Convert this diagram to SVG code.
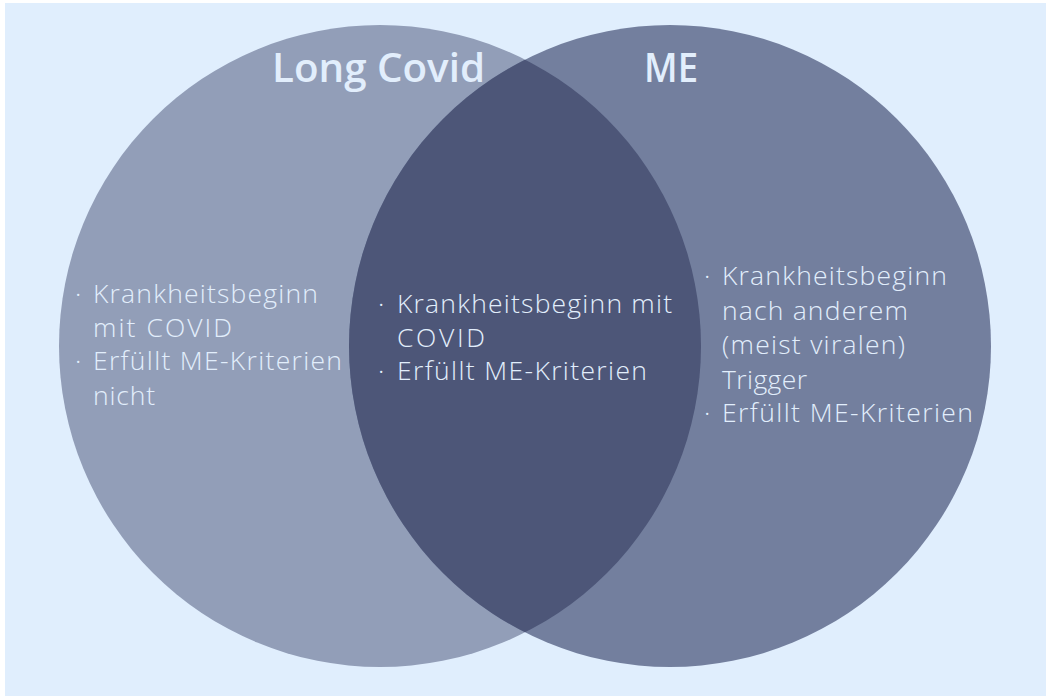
<svg xmlns="http://www.w3.org/2000/svg" width="1046" height="696" viewBox="0 0 1046 696">
<style>
.t{font-family:"Open Sans","Liberation Sans",sans-serif;font-weight:600;font-size:39px;fill:#e2eefc}
.b{font-family:"Open Sans","Liberation Sans",sans-serif;font-weight:300;font-size:26.5px;fill:#e2eefc}
</style>
<rect x="0" y="0" width="1046" height="696" fill="#ffffff"/>
<rect x="5" y="3" width="1041" height="693" fill="#e0eefd"/>
<defs>
<clipPath id="cl"><circle cx="380" cy="346" r="321"/></clipPath>
</defs>
<g id="longcovid">
<circle cx="380" cy="346" r="321" fill="#929eb8"/>
</g>
<g id="me">
<circle cx="670" cy="346" r="321" fill="#737f9e"/>
</g>
<g id="overlap">
<circle cx="670" cy="346" r="321" fill="#4d5678" clip-path="url(#cl)"/>
</g>
<g id="labels">
<text class="t" x="272" y="82" textLength="213" lengthAdjust="spacingAndGlyphs">Long Covid</text>
<text class="t" x="644" y="82" textLength="54" lengthAdjust="spacingAndGlyphs">ME</text>
</g>
<g id="left-text" class="b">
<text x="75" y="303">·</text><text x="93" y="303" textLength="225">Krankheitsbeginn</text>
<text x="93" y="337" textLength="139">mit COVID</text>
<text x="75" y="370">·</text><text x="93" y="370" textLength="249">Erfüllt ME-Kriterien</text>
<text x="93" y="405" textLength="62">nicht</text>
</g>
<g id="middle-text" class="b">
<text x="378" y="313">·</text><text x="397" y="313" textLength="275">Krankheitsbeginn mit</text>
<text x="397" y="347" textLength="88">COVID</text>
<text x="378" y="380">·</text><text x="397" y="380" textLength="250">Erfüllt ME-Kriterien</text>
</g>
<g id="right-text" class="b">
<text x="704" y="285">·</text><text x="722" y="285" textLength="225">Krankheitsbeginn</text>
<text x="722" y="319.5" textLength="186">nach anderem</text>
<text x="722" y="354" textLength="183">(meist viralen)</text>
<text x="722" y="388.5" textLength="85">Trigger</text>
<text x="704" y="422">·</text><text x="722" y="422" textLength="251">Erfüllt ME-Kriterien</text>
</g>
</svg>
